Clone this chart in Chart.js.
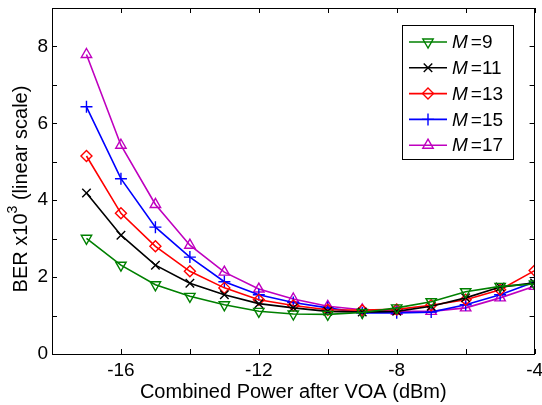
<!DOCTYPE html>
<html>
<head>
<meta charset="utf-8">
<script src="https://cdn.jsdelivr.net/npm/chart.js@4/dist/chart.umd.min.js"></script>
<style>
html, body { margin: 0; padding: 0; background: #fff; }
#wrap { width: 542px; height: 405px; position: relative; }
</style>
</head>
<body>
<div id="wrap"><canvas id="ber-chart" width="542" height="405"></canvas></div>
<script>
const powers = [-17, -16, -15, -14, -13, -12, -11, -10, -9, -8, -7, -6, -5, -4];

const berM9 = [3.01, 2.31, 1.80, 1.50, 1.28, 1.11, 1.04, 1.03, 1.08, 1.20, 1.36, 1.62, 1.76, 1.82];
const berM11 = [4.19, 3.09, 2.31, 1.84, 1.54, 1.31, 1.20, 1.11, 1.09, 1.11, 1.24, 1.46, 1.74, 1.85];
const berM13 = [5.15, 3.66, 2.80, 2.15, 1.72, 1.41, 1.26, 1.15, 1.14, 1.16, 1.27, 1.41, 1.67, 2.17];
const berM15 = [6.43, 4.56, 3.30, 2.52, 1.88, 1.54, 1.34, 1.20, 1.07, 1.07, 1.09, 1.28, 1.54, 1.87];
const berM17 = [7.79, 5.43, 3.89, 2.83, 2.13, 1.69, 1.43, 1.24, 1.15, 1.11, 1.11, 1.20, 1.46, 1.76];

const seriesLabels = ['9', '11', '13', '15', '17'];
const xTickLabels = [-16, -12, -8, -4];
const yTickLabels = [0, 2, 4, 6, 8];

const FONT = '"Liberation Sans", Arial, sans-serif';

const styles = [
    { color: '#008000', point: 'triangle', rot: 180 },
    { color: '#000000', point: 'crossRot', rot: 0 },
    { color: '#ff0000', point: 'rectRot', rot: 0 },
    { color: '#0000ff', point: 'cross', rot: 0 },
    { color: '#bf00bf', point: 'triangle', rot: 0 }
];

const values = [berM9, berM11, berM13, berM15, berM17];

const datasets = values.map((vals, i) => ({
    label: 'M =' + seriesLabels[i],
    data: powers.map((p, k) => ({ x: p, y: vals[k] })),
    borderColor: styles[i].color,
    backgroundColor: 'rgba(0,0,0,0)',
    borderWidth: 1.6,
    pointStyle: styles[i].point,
    pointRotation: styles[i].rot,
    pointRadius: styles[i].point === 'rectRot' ? 5.5 : 6,
    pointBorderWidth: 1.4,
    pointBorderColor: styles[i].color,
    pointBackgroundColor: 'rgba(0,0,0,0)',
    tension: 0
}));

function noPad(s) {
    s.paddingTop = 0;
    s.paddingBottom = 0;
    s.paddingLeft = 0;
    s.paddingRight = 0;
}

// inner ticks, box, y title with superscript, legend
const matlabLook = {
    id: 'matlabLook',
    afterDraw(chart) {
        const c = chart.ctx;
        const a = chart.chartArea;
        const xs = chart.scales.x;
        const ys = chart.scales.y;
        c.save();
        c.strokeStyle = '#000';
        c.lineWidth = 1;
        const tl = 5;
        for (let v = -16; v <= -4; v += 2) {
            const px = Math.round(xs.getPixelForValue(v)) + 0.5;
            c.beginPath();
            c.moveTo(px, a.bottom); c.lineTo(px, a.bottom - tl);
            c.moveTo(px, a.top); c.lineTo(px, a.top + tl);
            c.stroke();
        }
        for (let v = 0; v <= 9; v += 1) {
            const py = Math.round(ys.getPixelForValue(v)) + 0.5;
            c.beginPath();
            c.moveTo(a.left, py); c.lineTo(a.left + tl, py);
            c.moveTo(a.right, py); c.lineTo(a.right - tl, py);
            c.stroke();
        }
        c.strokeRect(Math.round(a.left) + 0.5, Math.round(a.top) + 0.5,
            Math.round(a.right - a.left) - 1, Math.round(a.bottom - a.top));

        // y title
        c.translate(21, 189);
        c.rotate(-Math.PI / 2);
        c.fillStyle = '#000';
        c.textBaseline = 'middle';
        const big = '20px ' + FONT;
        const small = '14px ' + FONT;
        const p1 = 'BER x10';
        const p2 = '3';
        const p3 = ' (linear scale)';
        c.font = big; const w1 = c.measureText(p1).width;
        c.font = small; const w2 = c.measureText(p2).width;
        c.font = big; const w3 = c.measureText(p3).width;
        let x0 = -(w1 + w2 + w3) / 2;
        c.font = big; c.fillText(p1, x0, 0);
        c.font = small; c.fillText(p2, x0 + w1, -8);
        c.font = big; c.fillText(p3, x0 + w1 + w2, 0);
        c.restore();

        // legend
        c.save();
        const lx = 402, ly = 25, lw = 111, lh = 134;
        c.fillStyle = '#fff';
        c.fillRect(lx, ly, lw, lh);
        c.strokeStyle = '#000';
        c.lineWidth = 1;
        c.strokeRect(lx + 0.5, ly + 0.5, lw, lh);
        chart.data.datasets.forEach((ds, i) => {
            const yy = 42 + i * 25.8;
            c.strokeStyle = ds.borderColor;
            c.lineWidth = 1.6;
            c.beginPath();
            c.moveTo(409, yy); c.lineTo(447, yy);
            c.stroke();
            c.lineWidth = 1.4;
            c.fillStyle = 'rgba(0,0,0,0)';
            Chart.helpers.drawPoint(c, {
                pointStyle: ds.pointStyle,
                rotation: ds.pointRotation,
                radius: ds.pointRadius,
                borderWidth: 1.4
            }, 428, yy);
            c.fillStyle = '#000';
            c.textBaseline = 'middle';
            c.font = 'italic 19px ' + FONT;
            c.fillText('M', 452, yy + 1);
            const mw = c.measureText('M').width;
            c.font = '19px ' + FONT;
            c.fillText('=' + seriesLabels[i], 452 + mw + 3, yy + 1);
        });
        c.restore();
    }
};

new Chart(document.getElementById('ber-chart'), {
    type: 'line',
    data: { datasets },
    options: {
        responsive: false,
        animation: false,
        layout: { padding: { top: 8, right: 5, left: 0, bottom: 0 } },
        plugins: { legend: { display: false }, tooltip: { enabled: false } },
        scales: {
            x: {
                type: 'linear',
                min: -18,
                max: -4,
                afterBuildTicks: s => { s.ticks = xTickLabels.map(v => ({ value: v })); },
                afterFit: s => { s.height = 51; noPad(s); },
                grid: { display: false, drawTicks: false },
                border: { display: false },
                ticks: {
                    color: '#000',
                    font: { family: FONT, size: 19 },
                    padding: 5,
                    maxRotation: 0,
                    autoSkip: false
                },
                title: {
                    display: true,
                    text: 'Combined Power after VOA (dBm)',
                    color: '#000',
                    font: { family: FONT, size: 20 },
                    padding: { top: 0, bottom: 1 }
                }
            },
            y: {
                type: 'linear',
                min: 0,
                max: 9,
                afterBuildTicks: s => { s.ticks = yTickLabels.map(v => ({ value: v })); },
                afterFit: s => { s.width = 52; noPad(s); },
                grid: { display: false, drawTicks: false },
                border: { display: false },
                ticks: {
                    color: '#000',
                    font: { family: FONT, size: 19 },
                    padding: 4
                }
            }
        }
    },
    plugins: [matlabLook]
});
</script>
</body>
</html>
